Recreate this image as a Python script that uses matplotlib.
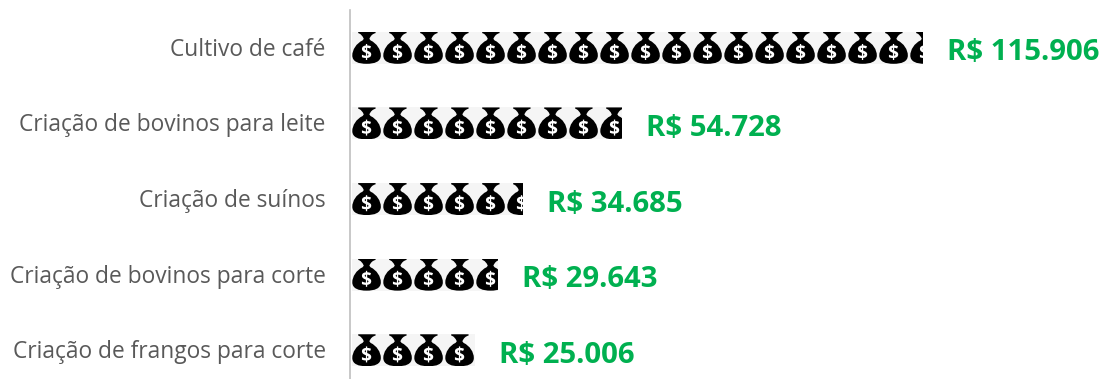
import matplotlib
matplotlib.use('Agg')
import matplotlib.pyplot as plt
from matplotlib.path import Path
from matplotlib.patches import PathPatch
from matplotlib.textpath import TextPath
from matplotlib.font_manager import FontProperties
from matplotlib.transforms import Affine2D

categories = ['Cultivo de café', 'Criação de bovinos para leite', 'Criação de suínos',
              'Criação de bovinos para corte', 'Criação de frangos para corte']
values = [115906, 54728, 34685, 29643, 25006]
value_labels = ['R$ 115.906', 'R$ 54.728', 'R$ 34.685', 'R$ 29.643', 'R$ 25.006']

GREY = '#595959'
GREEN = '#00B050'
W, H = 1107, 379
PX = 203.0          # rs per pixel
TILE = 31 * PX      # width of one bag in value units
BAR_H = 0.423


def bag_path():
    # one bag, 0-1 in both directions, y going down
    v = [(0.20, 0.0), (0.76, 0.0), (0.76, 0.04), (0.62, 0.07), (0.56, 0.22),
         (0.60, 0.27), (0.80, 0.36), (0.93, 0.56), (0.93, 0.74), (0.93, 0.94), (0.72, 1.0), (0.47, 1.0),
         (0.22, 1.0), (0.01, 0.94), (0.01, 0.74), (0.01, 0.56), (0.14, 0.36), (0.34, 0.27),
         (0.38, 0.22), (0.32, 0.07), (0.20, 0.04), (0.20, 0.0)]
    c = [Path.MOVETO, Path.LINETO, Path.LINETO, Path.CURVE3, Path.CURVE3,
         Path.LINETO, Path.CURVE4, Path.CURVE4, Path.CURVE4, Path.CURVE4, Path.CURVE4, Path.CURVE4,
         Path.CURVE4, Path.CURVE4, Path.CURVE4, Path.CURVE4, Path.CURVE4, Path.CURVE4,
         Path.LINETO, Path.CURVE3, Path.CURVE3, Path.CLOSEPOLY]
    return Path(v, c)


def dollar_path():
    tp = TextPath((0, 0), '$', size=1, prop=FontProperties(family='Open Sans', weight='bold'))
    box = tp.get_extents()
    t = Affine2D().translate(-box.x0 - box.width / 2, -box.y0 - box.height / 2) \
        .scale(0.50 / box.height, -0.50 / box.height).translate(0.47, 0.63)
    return t.transform_path(tp)


fig = plt.figure(figsize=(W / 100, H / 100), dpi=100)
ax = fig.add_axes([350 / W, 0, 1 - 350 / W, 1 - 10 / H])
ax.set_xlim(-2 * PX, (W - 352) * PX)
ax.set_ylim(4.38, -0.5)

for s in ['top', 'right', 'bottom']:
    ax.spines[s].set_visible(False)
ax.spines['left'].set_color('#BFBFBF')
ax.spines['left'].set_linewidth(1.2)
ax.xaxis.set_visible(False)
ax.set_yticks(range(len(categories)))
ax.set_yticklabels(categories, family='Open Sans', fontsize=16.4, color=GREY)
ax.tick_params(axis='y', length=0, pad=17.5)
for lab in ax.get_yticklabels():
    lab.set_verticalalignment('center')
    lab.set_transform(lab.get_transform() + Affine2D().translate(0, -2))

bars = ax.barh(range(len(values)), values, height=BAR_H, color='#F5F5F5', linewidth=0)

bag = bag_path()
dollar = dollar_path()
for i, (val, bar) in enumerate(zip(values, bars)):
    n = 0
    while n * TILE < val:
        t = Affine2D().scale(TILE, BAR_H).translate(n * TILE, i - BAR_H / 2) + ax.transData
        for path, col in [(bag, 'black'), (dollar, 'white')]:
            p = PathPatch(path, transform=t, facecolor=col, edgecolor='none', linewidth=0)
            ax.add_patch(p)
            p.set_clip_path(bar)
        n += 1
    ax.annotate(value_labels[i], (val, i), xytext=(24, -5), textcoords='offset pixels',
                family='Open Sans', fontweight='bold', fontsize=21.2, color=GREEN,
                va='center', ha='left')

fig.savefig('out.png', dpi=100)
